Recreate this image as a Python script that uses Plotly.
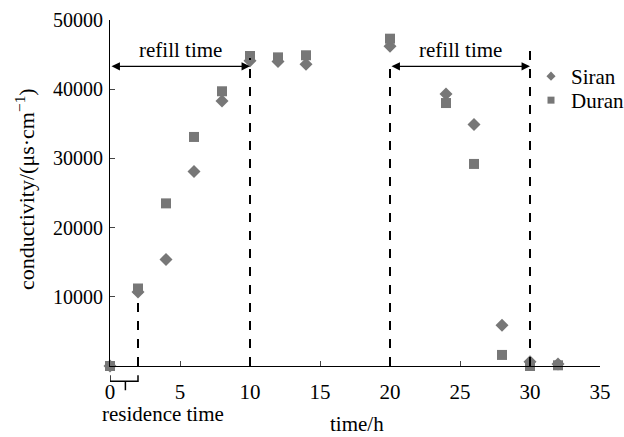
import plotly.graph_objects as go

time_h = [0, 2, 4, 6, 8, 10, 12, 14, 20, 24, 26, 28, 30, 32]
siran = [0, 10700, 15400, 28100, 38300, 44100, 44000, 43600, 46200, 39300, 34900, 5900, 600, 300]
duran = [0, 11200, 23500, 33100, 39700, 44800, 44600, 44900, 47300, 38000, 29200, 1600, 0, 100]

residence_end = 2
refill_windows = [(0, 10), (20, 30)]
dashed_lines = [(2, 10000), (10, 44500), (20, 44200), (30, 46600)]
arrow_level = 43300

x_ticks = [0, 5, 10, 15, 20, 25, 30, 35]
y_ticks = [10000, 20000, 30000, 40000, 50000]

font_family = "Liberation Serif, Times New Roman, serif"
grey = "#777777"

fig = go.Figure()
fig.add_trace(go.Scatter(x=time_h, y=siran, mode="markers", name="Siran", showlegend=False,
                         marker=dict(symbol="diamond", size=10, color=grey), cliponaxis=False))
fig.add_trace(go.Scatter(x=time_h, y=duran, mode="markers", name="Duran", showlegend=False,
                         marker=dict(symbol="square", size=10, color=grey), cliponaxis=False))
# legend entries with small symbols, as in the reference
fig.add_trace(go.Scatter(x=[None], y=[None], mode="markers", name="Siran", legend="legend",
                         marker=dict(symbol="diamond", size=7, color=grey)))
fig.add_trace(go.Scatter(x=[None], y=[None], mode="markers", name="Duran", legend="legend2",
                         marker=dict(symbol="square", size=7, color=grey)))

shapes = []
for xv, top in dashed_lines:
    shapes.append(dict(type="line", xref="x", yref="y", x0=xv, x1=xv, y0=0, y1=top,
                       line=dict(color="black", width=2, dash="dash")))
# brace under the axis for residence time
shapes.append(dict(type="path", xref="x", yref="paper",
                   path=f"M 0.0,-0.027 L 0.0,-0.044 L {residence_end},-0.044 L {residence_end},-0.027 "
                        f"M {residence_end/2 + 0.1},-0.044 L {residence_end/2 + 0.1},-0.07",
                   line=dict(color="black", width=1.5)))

annotations = []
for a, b in refill_windows:
    annotations.append(dict(x=b, y=arrow_level, ax=a, ay=arrow_level, xref="x", yref="y",
                            axref="x", ayref="y", text="", showarrow=True,
                            arrowhead=2, startarrowhead=2, arrowside="end+start",
                            arrowwidth=1.3, arrowsize=1.3, startarrowsize=1.3, arrowcolor="black"))
    annotations.append(dict(x=(a + b) / 2, y=arrow_level, xref="x", yref="y", yshift=16,
                            text="refill time", showarrow=False,
                            font=dict(family=font_family, size=21, color="black")))
annotations.append(dict(x=(163 - 110) / 490, y=(366 - 414) / 346, xref="paper", yref="paper",
                        text="residence time", showarrow=False, xanchor="center", yanchor="middle",
                        font=dict(family=font_family, size=21, color="black")))
annotations.append(dict(x=(357 - 110) / 490, y=(366 - 424) / 346, xref="paper", yref="paper",
                        text="time/h", showarrow=False, xanchor="center", yanchor="middle",
                        font=dict(family=font_family, size=21, color="black")))
annotations.append(dict(x=(25 - 110) / 490, y=(366 - 189) / 346, xref="paper", yref="paper",
                        textangle=-90,
                        text="conductivity/(μs·cm<sup>−1</sup>)", showarrow=False,
                        xanchor="center", yanchor="middle",
                        font=dict(family=font_family, size=22, color="black")))

legend_common = dict(xanchor="left", yanchor="top", bgcolor="rgba(0,0,0,0)",
                     font=dict(family=font_family, size=21), itemwidth=30)

fig.update_layout(
    width=624, height=437,
    margin=dict(l=110, r=24, t=20, b=71, autoexpand=False),
    paper_bgcolor="white", plot_bgcolor="white",
    font=dict(family=font_family, size=20, color="black"),
    showlegend=True,
    legend=dict(x=(531 - 110) / 490, y=(366 - 56) / 346, **legend_common),
    legend2=dict(x=(531 - 110) / 490, y=(366 - 80) / 346, **legend_common),
    shapes=shapes, annotations=annotations,
    xaxis=dict(range=[0, 35], tickvals=x_ticks, ticktext=[str(v) for v in x_ticks],
               ticks="inside", ticklen=5, automargin=False,
               showline=True, linecolor="black", linewidth=1, showgrid=False,
               zeroline=False, ticklabelstandoff=7,
               tickfont=dict(family=font_family, size=21)),
    yaxis=dict(range=[0, 50000], tickvals=y_ticks, ticktext=[str(v) for v in y_ticks],
               ticks="inside", ticklen=5, automargin=False,
               showline=True, linecolor="black", linewidth=1, showgrid=False,
               zeroline=False, ticklabelstandoff=2,
               tickfont=dict(family=font_family, size=20)),
)

fig.write_html("out.html", config={"displayModeBar": False},
               post_script="document.body.style.margin='0px';")
